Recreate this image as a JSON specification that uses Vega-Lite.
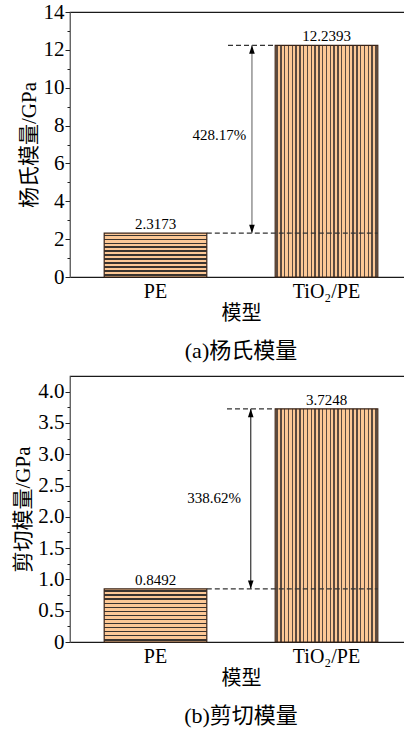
{
  "$schema": "https://vega.github.io/schema/vega-lite/v6.json",
  "padding": {"left": 12, "top": 0, "right": 0, "bottom": 0},
  "spacing": 12,
  "config": {
    "font": "Liberation Serif, Noto Sans CJK SC",
    "view": {"stroke": "#1a1a1a", "strokeWidth": 1.2},
    "axis": {"labelFont": "Liberation Serif, Noto Sans CJK SC", "titleFont": "Liberation Serif, Noto Sans CJK SC", "labelColor": "#000", "titleColor": "#000", "titleFontWeight": "normal", "grid": false, "tickColor": "#222", "domainColor": "#666", "labelOverlap": false},
    "title": {"font": "Liberation Serif, Noto Sans CJK SC", "fontWeight": "normal", "color": "#000"},
    "text": {"font": "Liberation Serif", "color": "#000"}
  },
  "datasets": {
    "young": [{"model": "PE", "value": 2.3173}, {"model": "TiO₂/PE", "value": 12.2393}],
    "shear": [{"model": "PE", "value": 0.8492}, {"model": "TiO₂/PE", "value": 3.7248}],
    "youngLines": [{"xa": 0.8, "xb": 1.8, "y": 2.3173}, {"xa": 0.924, "xb": 1.2, "y": 12.2393}],
    "youngAnno": [{"x": 1.064, "ylo": 2.3173, "yhi": 12.2393, "pct": "428.17%", "tx": 1.03, "ty": 7.5}],
    "shearLines": [{"xa": 0.8, "xb": 1.8, "y": 0.8492}, {"xa": 0.918, "xb": 1.2, "y": 3.7248}],
    "shearAnno": [{"x": 1.057, "ylo": 0.8492, "yhi": 3.7248, "pct": "338.62%", "tx": 1.0, "ty": 2.295}]
  },
  "vconcat": [
    {
      "width": 342,
      "height": 265,
      "title": {"text": "(a)杨氏模量", "orient": "bottom", "fontSize": 22, "offset": 18},
      "data": {"name": "young"},
      "layer": [
        {
          "transform": [{"filter": "datum.model == 'PE'"}],
          "mark": {"type": "bar", "stroke": "#3a2418", "strokeWidth": 1.2, "fill": {"gradient": "linear", "x1": 0, "y1": 0, "x2": 0, "y2": 1, "stops": [
            {"offset":0.0318,"color":"#fcc896"},{"offset":0.0318,"color":"#3a332e"},{"offset":0.0591,"color":"#3a332e"},{"offset":0.0591,"color":"#fcc896"},
            {"offset":0.1228,"color":"#fcc896"},{"offset":0.1228,"color":"#3a332e"},{"offset":0.15,"color":"#3a332e"},{"offset":0.15,"color":"#fcc896"},
            {"offset":0.2137,"color":"#fcc896"},{"offset":0.2137,"color":"#3a332e"},{"offset":0.2409,"color":"#3a332e"},{"offset":0.2409,"color":"#fcc896"},
            {"offset":0.3046,"color":"#fcc896"},{"offset":0.3046,"color":"#3a332e"},{"offset":0.3318,"color":"#3a332e"},{"offset":0.3318,"color":"#fcc896"},
            {"offset":0.3955,"color":"#fcc896"},{"offset":0.3955,"color":"#3a332e"},{"offset":0.4227,"color":"#3a332e"},{"offset":0.4227,"color":"#fcc896"},
            {"offset":0.4864,"color":"#fcc896"},{"offset":0.4864,"color":"#3a332e"},{"offset":0.5136,"color":"#3a332e"},{"offset":0.5136,"color":"#fcc896"},
            {"offset":0.5773,"color":"#fcc896"},{"offset":0.5773,"color":"#3a332e"},{"offset":0.6045,"color":"#3a332e"},{"offset":0.6045,"color":"#fcc896"},
            {"offset":0.6682,"color":"#fcc896"},{"offset":0.6682,"color":"#3a332e"},{"offset":0.6954,"color":"#3a332e"},{"offset":0.6954,"color":"#fcc896"},
            {"offset":0.7591,"color":"#fcc896"},{"offset":0.7591,"color":"#3a332e"},{"offset":0.7863,"color":"#3a332e"},{"offset":0.7863,"color":"#fcc896"},
            {"offset":0.85,"color":"#fcc896"},{"offset":0.85,"color":"#3a332e"},{"offset":0.8772,"color":"#3a332e"},{"offset":0.8772,"color":"#fcc896"},
            {"offset":0.9409,"color":"#fcc896"},{"offset":0.9409,"color":"#3a332e"},{"offset":0.9681,"color":"#3a332e"},{"offset":0.9681,"color":"#fcc896"}
          ]}},
          "encoding": {
            "x": {"field": "model", "type": "nominal", "sort": null, "scale": {"domain": ["PE", "TiO₂/PE"], "paddingInner": 0.4, "paddingOuter": 0.2}, "axis": {"title": "模型", "labelAngle": 0, "labelFontSize": 20, "titleFontSize": 20, "ticks": false, "tickSize": 0, "labelPadding": 4, "titlePadding": 2, "domainColor": "#1a1a1a"}},
            "y": {"field": "value", "type": "quantitative", "scale": {"domain": [0, 14], "nice": false}, "axis": {"title": "杨氏模量/GPa", "values": [0,1,2,3,4,5,6,7,8,9,10,11,12,13,14], "tickCount": 100, "labelExpr": "datum.value % 2 == 0 ? format(datum.value, 'd') : ''", "labelOverlap": false, "labelBound": false, "labelFlush": false, "tickSize": {"condition": {"test": "datum.value % 2 == 0", "value": 5}, "value": 3}, "labelFontSize": 21, "titleFontSize": 21, "labelPadding": 1, "titlePadding": 4}}
          }
        },
        {
          "transform": [{"filter": "datum.model != 'PE'"}],
          "mark": {"type": "bar", "stroke": "#3a2418", "strokeWidth": 1.2, "fill": {"gradient": "linear", "x1": 0, "y1": 0, "x2": 1, "y2": 0, "stops": [
            {"offset":0.0125,"color":"#fcc896"},{"offset":0.0125,"color":"#5a4a40"},{"offset":0.0245,"color":"#5a4a40"},{"offset":0.0245,"color":"#fcc896"},
            {"offset":0.0496,"color":"#fcc896"},{"offset":0.0496,"color":"#5a4a40"},{"offset":0.0616,"color":"#5a4a40"},{"offset":0.0616,"color":"#fcc896"},
            {"offset":0.0866,"color":"#fcc896"},{"offset":0.0866,"color":"#5a4a40"},{"offset":0.0986,"color":"#5a4a40"},{"offset":0.0986,"color":"#fcc896"},
            {"offset":0.1236,"color":"#fcc896"},{"offset":0.1236,"color":"#5a4a40"},{"offset":0.1356,"color":"#5a4a40"},{"offset":0.1356,"color":"#fcc896"},
            {"offset":0.1607,"color":"#fcc896"},{"offset":0.1607,"color":"#5a4a40"},{"offset":0.1727,"color":"#5a4a40"},{"offset":0.1727,"color":"#fcc896"},
            {"offset":0.1977,"color":"#fcc896"},{"offset":0.1977,"color":"#5a4a40"},{"offset":0.2097,"color":"#5a4a40"},{"offset":0.2097,"color":"#fcc896"},
            {"offset":0.2347,"color":"#fcc896"},{"offset":0.2347,"color":"#5a4a40"},{"offset":0.2467,"color":"#5a4a40"},{"offset":0.2467,"color":"#fcc896"},
            {"offset":0.2718,"color":"#fcc896"},{"offset":0.2718,"color":"#5a4a40"},{"offset":0.2838,"color":"#5a4a40"},{"offset":0.2838,"color":"#fcc896"},
            {"offset":0.3088,"color":"#fcc896"},{"offset":0.3088,"color":"#5a4a40"},{"offset":0.3208,"color":"#5a4a40"},{"offset":0.3208,"color":"#fcc896"},
            {"offset":0.3459,"color":"#fcc896"},{"offset":0.3459,"color":"#5a4a40"},{"offset":0.3579,"color":"#5a4a40"},{"offset":0.3579,"color":"#fcc896"},
            {"offset":0.3829,"color":"#fcc896"},{"offset":0.3829,"color":"#5a4a40"},{"offset":0.3949,"color":"#5a4a40"},{"offset":0.3949,"color":"#fcc896"},
            {"offset":0.4199,"color":"#fcc896"},{"offset":0.4199,"color":"#5a4a40"},{"offset":0.4319,"color":"#5a4a40"},{"offset":0.4319,"color":"#fcc896"},
            {"offset":0.457,"color":"#fcc896"},{"offset":0.457,"color":"#5a4a40"},{"offset":0.469,"color":"#5a4a40"},{"offset":0.469,"color":"#fcc896"},
            {"offset":0.494,"color":"#fcc896"},{"offset":0.494,"color":"#5a4a40"},{"offset":0.506,"color":"#5a4a40"},{"offset":0.506,"color":"#fcc896"},
            {"offset":0.531,"color":"#fcc896"},{"offset":0.531,"color":"#5a4a40"},{"offset":0.543,"color":"#5a4a40"},{"offset":0.543,"color":"#fcc896"},
            {"offset":0.5681,"color":"#fcc896"},{"offset":0.5681,"color":"#5a4a40"},{"offset":0.5801,"color":"#5a4a40"},{"offset":0.5801,"color":"#fcc896"},
            {"offset":0.6051,"color":"#fcc896"},{"offset":0.6051,"color":"#5a4a40"},{"offset":0.6171,"color":"#5a4a40"},{"offset":0.6171,"color":"#fcc896"},
            {"offset":0.6421,"color":"#fcc896"},{"offset":0.6421,"color":"#5a4a40"},{"offset":0.6541,"color":"#5a4a40"},{"offset":0.6541,"color":"#fcc896"},
            {"offset":0.6792,"color":"#fcc896"},{"offset":0.6792,"color":"#5a4a40"},{"offset":0.6912,"color":"#5a4a40"},{"offset":0.6912,"color":"#fcc896"},
            {"offset":0.7162,"color":"#fcc896"},{"offset":0.7162,"color":"#5a4a40"},{"offset":0.7282,"color":"#5a4a40"},{"offset":0.7282,"color":"#fcc896"},
            {"offset":0.7533,"color":"#fcc896"},{"offset":0.7533,"color":"#5a4a40"},{"offset":0.7653,"color":"#5a4a40"},{"offset":0.7653,"color":"#fcc896"},
            {"offset":0.7903,"color":"#fcc896"},{"offset":0.7903,"color":"#5a4a40"},{"offset":0.8023,"color":"#5a4a40"},{"offset":0.8023,"color":"#fcc896"},
            {"offset":0.8273,"color":"#fcc896"},{"offset":0.8273,"color":"#5a4a40"},{"offset":0.8393,"color":"#5a4a40"},{"offset":0.8393,"color":"#fcc896"},
            {"offset":0.8644,"color":"#fcc896"},{"offset":0.8644,"color":"#5a4a40"},{"offset":0.8764,"color":"#5a4a40"},{"offset":0.8764,"color":"#fcc896"},
            {"offset":0.9014,"color":"#fcc896"},{"offset":0.9014,"color":"#5a4a40"},{"offset":0.9134,"color":"#5a4a40"},{"offset":0.9134,"color":"#fcc896"},
            {"offset":0.9384,"color":"#fcc896"},{"offset":0.9384,"color":"#5a4a40"},{"offset":0.9504,"color":"#5a4a40"},{"offset":0.9504,"color":"#fcc896"},
            {"offset":0.9755,"color":"#fcc896"},{"offset":0.9755,"color":"#5a4a40"},{"offset":0.9875,"color":"#5a4a40"},{"offset":0.9875,"color":"#fcc896"}
          ]}},
          "encoding": {
            "x": {"field": "model", "type": "nominal", "sort": null, "scale": {"domain": ["PE", "TiO₂/PE"], "paddingInner": 0.4, "paddingOuter": 0.2}, "axis": null},
            "y": {"field": "value", "type": "quantitative"}
          }
        },
        {
          "mark": {"type": "text", "baseline": "alphabetic", "dy": -4, "fontSize": 15},
          "encoding": {
            "x": {"field": "model", "type": "nominal", "sort": null, "scale": {"domain": ["PE", "TiO₂/PE"], "paddingInner": 0.4, "paddingOuter": 0.2}, "axis": null},
            "y": {"field": "value", "type": "quantitative"},
            "text": {"field": "value", "type": "quantitative", "format": ".4f"}
          }
        },
        {
          "data": {"name": "youngLines"},
          "mark": {"type": "rule", "strokeDash": [5, 3], "color": "#333", "strokeWidth": 1.2},
          "encoding": {
            "x": {"field": "xa", "type": "quantitative", "scale": {"domain": [0, 2], "nice": false, "zero": false}, "axis": null},
            "x2": {"field": "xb"},
            "y": {"field": "y", "type": "quantitative"}
          }
        },
        {
          "data": {"name": "youngAnno"},
          "mark": {"type": "rule", "color": "#777", "strokeWidth": 1.2},
          "encoding": {
            "x": {"field": "x", "type": "quantitative", "scale": {"domain": [0, 2], "nice": false, "zero": false}, "axis": null},
            "y": {"field": "ylo", "type": "quantitative"},
            "y2": {"field": "yhi"}
          }
        },
        {
          "data": {"name": "youngAnno"},
          "mark": {"type": "point", "shape": "M0,0L-0.8,2.4L0.8,2.4Z", "filled": true, "size": 49, "color": "#000", "opacity": 1},
          "encoding": {
            "x": {"field": "x", "type": "quantitative", "scale": {"domain": [0, 2], "nice": false, "zero": false}, "axis": null},
            "y": {"field": "yhi", "type": "quantitative"}
          }
        },
        {
          "data": {"name": "youngAnno"},
          "mark": {"type": "point", "shape": "M0,0L-0.8,-2.4L0.8,-2.4Z", "filled": true, "size": 49, "color": "#000", "opacity": 1},
          "encoding": {
            "x": {"field": "x", "type": "quantitative", "scale": {"domain": [0, 2], "nice": false, "zero": false}, "axis": null},
            "y": {"field": "ylo", "type": "quantitative"}
          }
        },
        {
          "data": {"name": "youngAnno"},
          "mark": {"type": "text", "align": "right", "baseline": "middle", "fontSize": 15},
          "encoding": {
            "x": {"field": "tx", "type": "quantitative", "scale": {"domain": [0, 2], "nice": false, "zero": false}, "axis": null},
            "y": {"field": "ty", "type": "quantitative"},
            "text": {"field": "pct", "type": "nominal"}
          }
        }
      ],
      "resolve": {"scale": {"x": "independent"}}
    },
    {
      "width": 342,
      "height": 266,
      "title": {"text": "(b)剪切模量", "orient": "bottom", "fontSize": 22, "offset": 18},
      "data": {"name": "shear"},
      "layer": [
        {
          "transform": [{"filter": "datum.model == 'PE'"}],
          "mark": {"type": "bar", "stroke": "#3a2418", "strokeWidth": 1.2, "fill": {"gradient": "linear", "x1": 0, "y1": 0, "x2": 0, "y2": 1, "stops": [
            {"offset":0.0271,"color":"#fcc896"},{"offset":0.0271,"color":"#3a332e"},{"offset":0.0499,"color":"#3a332e"},{"offset":0.0499,"color":"#fcc896"},
            {"offset":0.104,"color":"#fcc896"},{"offset":0.104,"color":"#3a332e"},{"offset":0.1268,"color":"#3a332e"},{"offset":0.1268,"color":"#fcc896"},
            {"offset":0.1809,"color":"#fcc896"},{"offset":0.1809,"color":"#3a332e"},{"offset":0.2037,"color":"#3a332e"},{"offset":0.2037,"color":"#fcc896"},
            {"offset":0.2578,"color":"#fcc896"},{"offset":0.2578,"color":"#3a332e"},{"offset":0.2806,"color":"#3a332e"},{"offset":0.2806,"color":"#fcc896"},
            {"offset":0.3348,"color":"#fcc896"},{"offset":0.3348,"color":"#3a332e"},{"offset":0.3576,"color":"#3a332e"},{"offset":0.3576,"color":"#fcc896"},
            {"offset":0.4117,"color":"#fcc896"},{"offset":0.4117,"color":"#3a332e"},{"offset":0.4345,"color":"#3a332e"},{"offset":0.4345,"color":"#fcc896"},
            {"offset":0.4886,"color":"#fcc896"},{"offset":0.4886,"color":"#3a332e"},{"offset":0.5114,"color":"#3a332e"},{"offset":0.5114,"color":"#fcc896"},
            {"offset":0.5655,"color":"#fcc896"},{"offset":0.5655,"color":"#3a332e"},{"offset":0.5883,"color":"#3a332e"},{"offset":0.5883,"color":"#fcc896"},
            {"offset":0.6425,"color":"#fcc896"},{"offset":0.6425,"color":"#3a332e"},{"offset":0.6653,"color":"#3a332e"},{"offset":0.6653,"color":"#fcc896"},
            {"offset":0.7194,"color":"#fcc896"},{"offset":0.7194,"color":"#3a332e"},{"offset":0.7422,"color":"#3a332e"},{"offset":0.7422,"color":"#fcc896"},
            {"offset":0.7963,"color":"#fcc896"},{"offset":0.7963,"color":"#3a332e"},{"offset":0.8191,"color":"#3a332e"},{"offset":0.8191,"color":"#fcc896"},
            {"offset":0.8732,"color":"#fcc896"},{"offset":0.8732,"color":"#3a332e"},{"offset":0.896,"color":"#3a332e"},{"offset":0.896,"color":"#fcc896"},
            {"offset":0.9501,"color":"#fcc896"},{"offset":0.9501,"color":"#3a332e"},{"offset":0.9729,"color":"#3a332e"},{"offset":0.9729,"color":"#fcc896"}
          ]}},
          "encoding": {
            "x": {"field": "model", "type": "nominal", "sort": null, "scale": {"domain": ["PE", "TiO₂/PE"], "paddingInner": 0.4, "paddingOuter": 0.2}, "axis": {"title": "模型", "labelAngle": 0, "labelFontSize": 20, "titleFontSize": 20, "ticks": false, "tickSize": 0, "labelPadding": 4, "titlePadding": 2, "domainColor": "#1a1a1a"}},
            "y": {"field": "value", "type": "quantitative", "scale": {"domain": [0, 4.25], "nice": false}, "axis": {"title": "剪切模量/GPa", "values": [0,0.25,0.5,0.75,1,1.25,1.5,1.75,2,2.25,2.5,2.75,3,3.25,3.5,3.75,4], "tickCount": 100, "labelExpr": "datum.value == 0 ? '0' : ((datum.value * 2) % 1 == 0 ? format(datum.value, '.1f') : '')", "labelOverlap": false, "labelBound": false, "labelFlush": false, "tickSize": {"condition": {"test": "(datum.value * 2) % 1 == 0", "value": 5}, "value": 3}, "labelFontSize": 21, "titleFontSize": 21, "labelPadding": 1, "titlePadding": 4}}
          }
        },
        {
          "transform": [{"filter": "datum.model != 'PE'"}],
          "mark": {"type": "bar", "stroke": "#3a2418", "strokeWidth": 1.2, "fill": {"gradient": "linear", "x1": 0, "y1": 0, "x2": 1, "y2": 0, "stops": [
            {"offset":0.0125,"color":"#fcc896"},{"offset":0.0125,"color":"#5a4a40"},{"offset":0.0245,"color":"#5a4a40"},{"offset":0.0245,"color":"#fcc896"},
            {"offset":0.0496,"color":"#fcc896"},{"offset":0.0496,"color":"#5a4a40"},{"offset":0.0616,"color":"#5a4a40"},{"offset":0.0616,"color":"#fcc896"},
            {"offset":0.0866,"color":"#fcc896"},{"offset":0.0866,"color":"#5a4a40"},{"offset":0.0986,"color":"#5a4a40"},{"offset":0.0986,"color":"#fcc896"},
            {"offset":0.1236,"color":"#fcc896"},{"offset":0.1236,"color":"#5a4a40"},{"offset":0.1356,"color":"#5a4a40"},{"offset":0.1356,"color":"#fcc896"},
            {"offset":0.1607,"color":"#fcc896"},{"offset":0.1607,"color":"#5a4a40"},{"offset":0.1727,"color":"#5a4a40"},{"offset":0.1727,"color":"#fcc896"},
            {"offset":0.1977,"color":"#fcc896"},{"offset":0.1977,"color":"#5a4a40"},{"offset":0.2097,"color":"#5a4a40"},{"offset":0.2097,"color":"#fcc896"},
            {"offset":0.2347,"color":"#fcc896"},{"offset":0.2347,"color":"#5a4a40"},{"offset":0.2467,"color":"#5a4a40"},{"offset":0.2467,"color":"#fcc896"},
            {"offset":0.2718,"color":"#fcc896"},{"offset":0.2718,"color":"#5a4a40"},{"offset":0.2838,"color":"#5a4a40"},{"offset":0.2838,"color":"#fcc896"},
            {"offset":0.3088,"color":"#fcc896"},{"offset":0.3088,"color":"#5a4a40"},{"offset":0.3208,"color":"#5a4a40"},{"offset":0.3208,"color":"#fcc896"},
            {"offset":0.3459,"color":"#fcc896"},{"offset":0.3459,"color":"#5a4a40"},{"offset":0.3579,"color":"#5a4a40"},{"offset":0.3579,"color":"#fcc896"},
            {"offset":0.3829,"color":"#fcc896"},{"offset":0.3829,"color":"#5a4a40"},{"offset":0.3949,"color":"#5a4a40"},{"offset":0.3949,"color":"#fcc896"},
            {"offset":0.4199,"color":"#fcc896"},{"offset":0.4199,"color":"#5a4a40"},{"offset":0.4319,"color":"#5a4a40"},{"offset":0.4319,"color":"#fcc896"},
            {"offset":0.457,"color":"#fcc896"},{"offset":0.457,"color":"#5a4a40"},{"offset":0.469,"color":"#5a4a40"},{"offset":0.469,"color":"#fcc896"},
            {"offset":0.494,"color":"#fcc896"},{"offset":0.494,"color":"#5a4a40"},{"offset":0.506,"color":"#5a4a40"},{"offset":0.506,"color":"#fcc896"},
            {"offset":0.531,"color":"#fcc896"},{"offset":0.531,"color":"#5a4a40"},{"offset":0.543,"color":"#5a4a40"},{"offset":0.543,"color":"#fcc896"},
            {"offset":0.5681,"color":"#fcc896"},{"offset":0.5681,"color":"#5a4a40"},{"offset":0.5801,"color":"#5a4a40"},{"offset":0.5801,"color":"#fcc896"},
            {"offset":0.6051,"color":"#fcc896"},{"offset":0.6051,"color":"#5a4a40"},{"offset":0.6171,"color":"#5a4a40"},{"offset":0.6171,"color":"#fcc896"},
            {"offset":0.6421,"color":"#fcc896"},{"offset":0.6421,"color":"#5a4a40"},{"offset":0.6541,"color":"#5a4a40"},{"offset":0.6541,"color":"#fcc896"},
            {"offset":0.6792,"color":"#fcc896"},{"offset":0.6792,"color":"#5a4a40"},{"offset":0.6912,"color":"#5a4a40"},{"offset":0.6912,"color":"#fcc896"},
            {"offset":0.7162,"color":"#fcc896"},{"offset":0.7162,"color":"#5a4a40"},{"offset":0.7282,"color":"#5a4a40"},{"offset":0.7282,"color":"#fcc896"},
            {"offset":0.7533,"color":"#fcc896"},{"offset":0.7533,"color":"#5a4a40"},{"offset":0.7653,"color":"#5a4a40"},{"offset":0.7653,"color":"#fcc896"},
            {"offset":0.7903,"color":"#fcc896"},{"offset":0.7903,"color":"#5a4a40"},{"offset":0.8023,"color":"#5a4a40"},{"offset":0.8023,"color":"#fcc896"},
            {"offset":0.8273,"color":"#fcc896"},{"offset":0.8273,"color":"#5a4a40"},{"offset":0.8393,"color":"#5a4a40"},{"offset":0.8393,"color":"#fcc896"},
            {"offset":0.8644,"color":"#fcc896"},{"offset":0.8644,"color":"#5a4a40"},{"offset":0.8764,"color":"#5a4a40"},{"offset":0.8764,"color":"#fcc896"},
            {"offset":0.9014,"color":"#fcc896"},{"offset":0.9014,"color":"#5a4a40"},{"offset":0.9134,"color":"#5a4a40"},{"offset":0.9134,"color":"#fcc896"},
            {"offset":0.9384,"color":"#fcc896"},{"offset":0.9384,"color":"#5a4a40"},{"offset":0.9504,"color":"#5a4a40"},{"offset":0.9504,"color":"#fcc896"},
            {"offset":0.9755,"color":"#fcc896"},{"offset":0.9755,"color":"#5a4a40"},{"offset":0.9875,"color":"#5a4a40"},{"offset":0.9875,"color":"#fcc896"}
          ]}},
          "encoding": {
            "x": {"field": "model", "type": "nominal", "sort": null, "scale": {"domain": ["PE", "TiO₂/PE"], "paddingInner": 0.4, "paddingOuter": 0.2}, "axis": null},
            "y": {"field": "value", "type": "quantitative"}
          }
        },
        {
          "mark": {"type": "text", "baseline": "alphabetic", "dy": -4, "fontSize": 15},
          "encoding": {
            "x": {"field": "model", "type": "nominal", "sort": null, "scale": {"domain": ["PE", "TiO₂/PE"], "paddingInner": 0.4, "paddingOuter": 0.2}, "axis": null},
            "y": {"field": "value", "type": "quantitative"},
            "text": {"field": "value", "type": "quantitative", "format": ".4f"}
          }
        },
        {
          "data": {"name": "shearLines"},
          "mark": {"type": "rule", "strokeDash": [5, 3], "color": "#333", "strokeWidth": 1.2},
          "encoding": {
            "x": {"field": "xa", "type": "quantitative", "scale": {"domain": [0, 2], "nice": false, "zero": false}, "axis": null},
            "x2": {"field": "xb"},
            "y": {"field": "y", "type": "quantitative"}
          }
        },
        {
          "data": {"name": "shearAnno"},
          "mark": {"type": "rule", "color": "#333", "strokeWidth": 1.2},
          "encoding": {
            "x": {"field": "x", "type": "quantitative", "scale": {"domain": [0, 2], "nice": false, "zero": false}, "axis": null},
            "y": {"field": "ylo", "type": "quantitative"},
            "y2": {"field": "yhi"}
          }
        },
        {
          "data": {"name": "shearAnno"},
          "mark": {"type": "point", "shape": "M0,0L-0.8,2.4L0.8,2.4Z", "filled": true, "size": 49, "color": "#000", "opacity": 1},
          "encoding": {
            "x": {"field": "x", "type": "quantitative", "scale": {"domain": [0, 2], "nice": false, "zero": false}, "axis": null},
            "y": {"field": "yhi", "type": "quantitative"}
          }
        },
        {
          "data": {"name": "shearAnno"},
          "mark": {"type": "point", "shape": "M0,0L-0.8,-2.4L0.8,-2.4Z", "filled": true, "size": 49, "color": "#000", "opacity": 1},
          "encoding": {
            "x": {"field": "x", "type": "quantitative", "scale": {"domain": [0, 2], "nice": false, "zero": false}, "axis": null},
            "y": {"field": "ylo", "type": "quantitative"}
          }
        },
        {
          "data": {"name": "shearAnno"},
          "mark": {"type": "text", "align": "right", "baseline": "middle", "fontSize": 15},
          "encoding": {
            "x": {"field": "tx", "type": "quantitative", "scale": {"domain": [0, 2], "nice": false, "zero": false}, "axis": null},
            "y": {"field": "ty", "type": "quantitative"},
            "text": {"field": "pct", "type": "nominal"}
          }
        }
      ],
      "resolve": {"scale": {"x": "independent"}}
    }
  ]
}
